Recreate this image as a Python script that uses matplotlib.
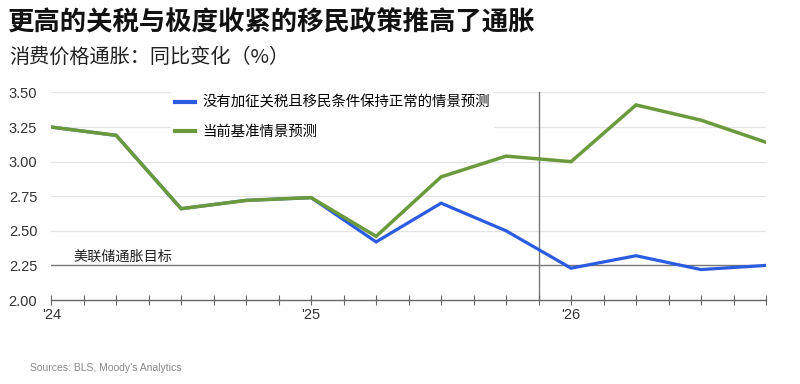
import matplotlib.pyplot as plt

plt.rcParams['font.family'] = ['Noto Sans CJK SC', 'DejaVu Sans']

# quarterly points, 2024Q1 .. 2026Q4
quarters = list(range(12))
no_tariff = [3.25, 3.19, 2.66, 2.72, 2.74, 2.42, 2.70, 2.50, 2.23, 2.32, 2.22, 2.25]
baseline = [3.25, 3.19, 2.66, 2.72, 2.74, 2.46, 2.89, 3.04, 3.00, 3.41, 3.30, 3.14]
fed_target = 2.25
forecast_start = 7.5
year_labels = ["'24", "'25", "'26"]
year_pos = [0, 4, 8]
y_ticks = [2.00, 2.25, 2.50, 2.75, 3.00, 3.25, 3.50]

blue = '#2b5ce0'
green = '#6b9a3c'

fig = plt.figure(figsize=(8, 3.84), dpi=100)
ax = fig.add_axes([0.064, 0.21875, 0.8935, 0.5404])

for y in y_ticks[1:]:
    if y != fed_target:
        ax.axhline(y, color='#e4e4e4', lw=0.9, zorder=0)
ax.axhline(fed_target, color='#777777', lw=1.0, zorder=1)
ax.axvline(forecast_start, color='#777777', lw=1.0, zorder=1)

ax.plot(quarters, no_tariff, color=blue, lw=2.3, solid_joinstyle='miter',
        label='没有加征关税且移民条件保持正常的情景预测', zorder=3)
ax.plot(quarters, baseline, color=green, lw=2.5, solid_joinstyle='miter',
        label='当前基准情景预测', zorder=4)

ax.text(0.35, 2.285, '美联储通胀目标', fontsize=10.2, color='#222222')

ax.set_xlim(0, 11)
ax.set_ylim(2.0, 3.5)
ax.set_yticks(y_ticks)
ax.set_yticklabels(['%.2f' % v for v in y_ticks], family='Liberation Sans',
                   fontsize=10.5, color='#333333')
ax.tick_params(axis='y', length=0, pad=10)

ax.set_xticks([i * 0.5 for i in range(23)], minor=True)
ax.set_xticks(year_pos)
ax.set_xticklabels(year_labels, family='Liberation Sans', fontsize=10.5, color='#333333')
ax.tick_params(axis='x', which='both', direction='inout', length=7, width=0.8,
               color='#666666', pad=2)

for s in ['top', 'right', 'left']:
    ax.spines[s].set_visible(False)
ax.spines['bottom'].set_color('#666666')
ax.spines['bottom'].set_linewidth(1.0)

leg = ax.legend(loc='upper left', bbox_to_anchor=(0.157, 1.04), fontsize=10.4,
                frameon=True, facecolor='white', edgecolor='none', framealpha=1,
                handlelength=1.4, handletextpad=0.5, labelspacing=1.05,
                borderpad=0.3)
for line in leg.get_lines():
    line.set_linewidth(3)

fig.text(0.01, 0.94, '更高的关税与极度收紧的移民政策推高了通胀',
         fontsize=19, fontweight='bold', color='#111111', va='center')
fig.text(0.012, 0.85, '消费价格通胀：同比变化（%）', fontsize=14.5, color='#222222',
         va='center')
fig.text(0.038, 0.042, "Sources: BLS, Moody's Analytics", family='Liberation Sans',
         fontsize=7.5, color='#888888', va='center')

fig.savefig('out.png', dpi=100)
